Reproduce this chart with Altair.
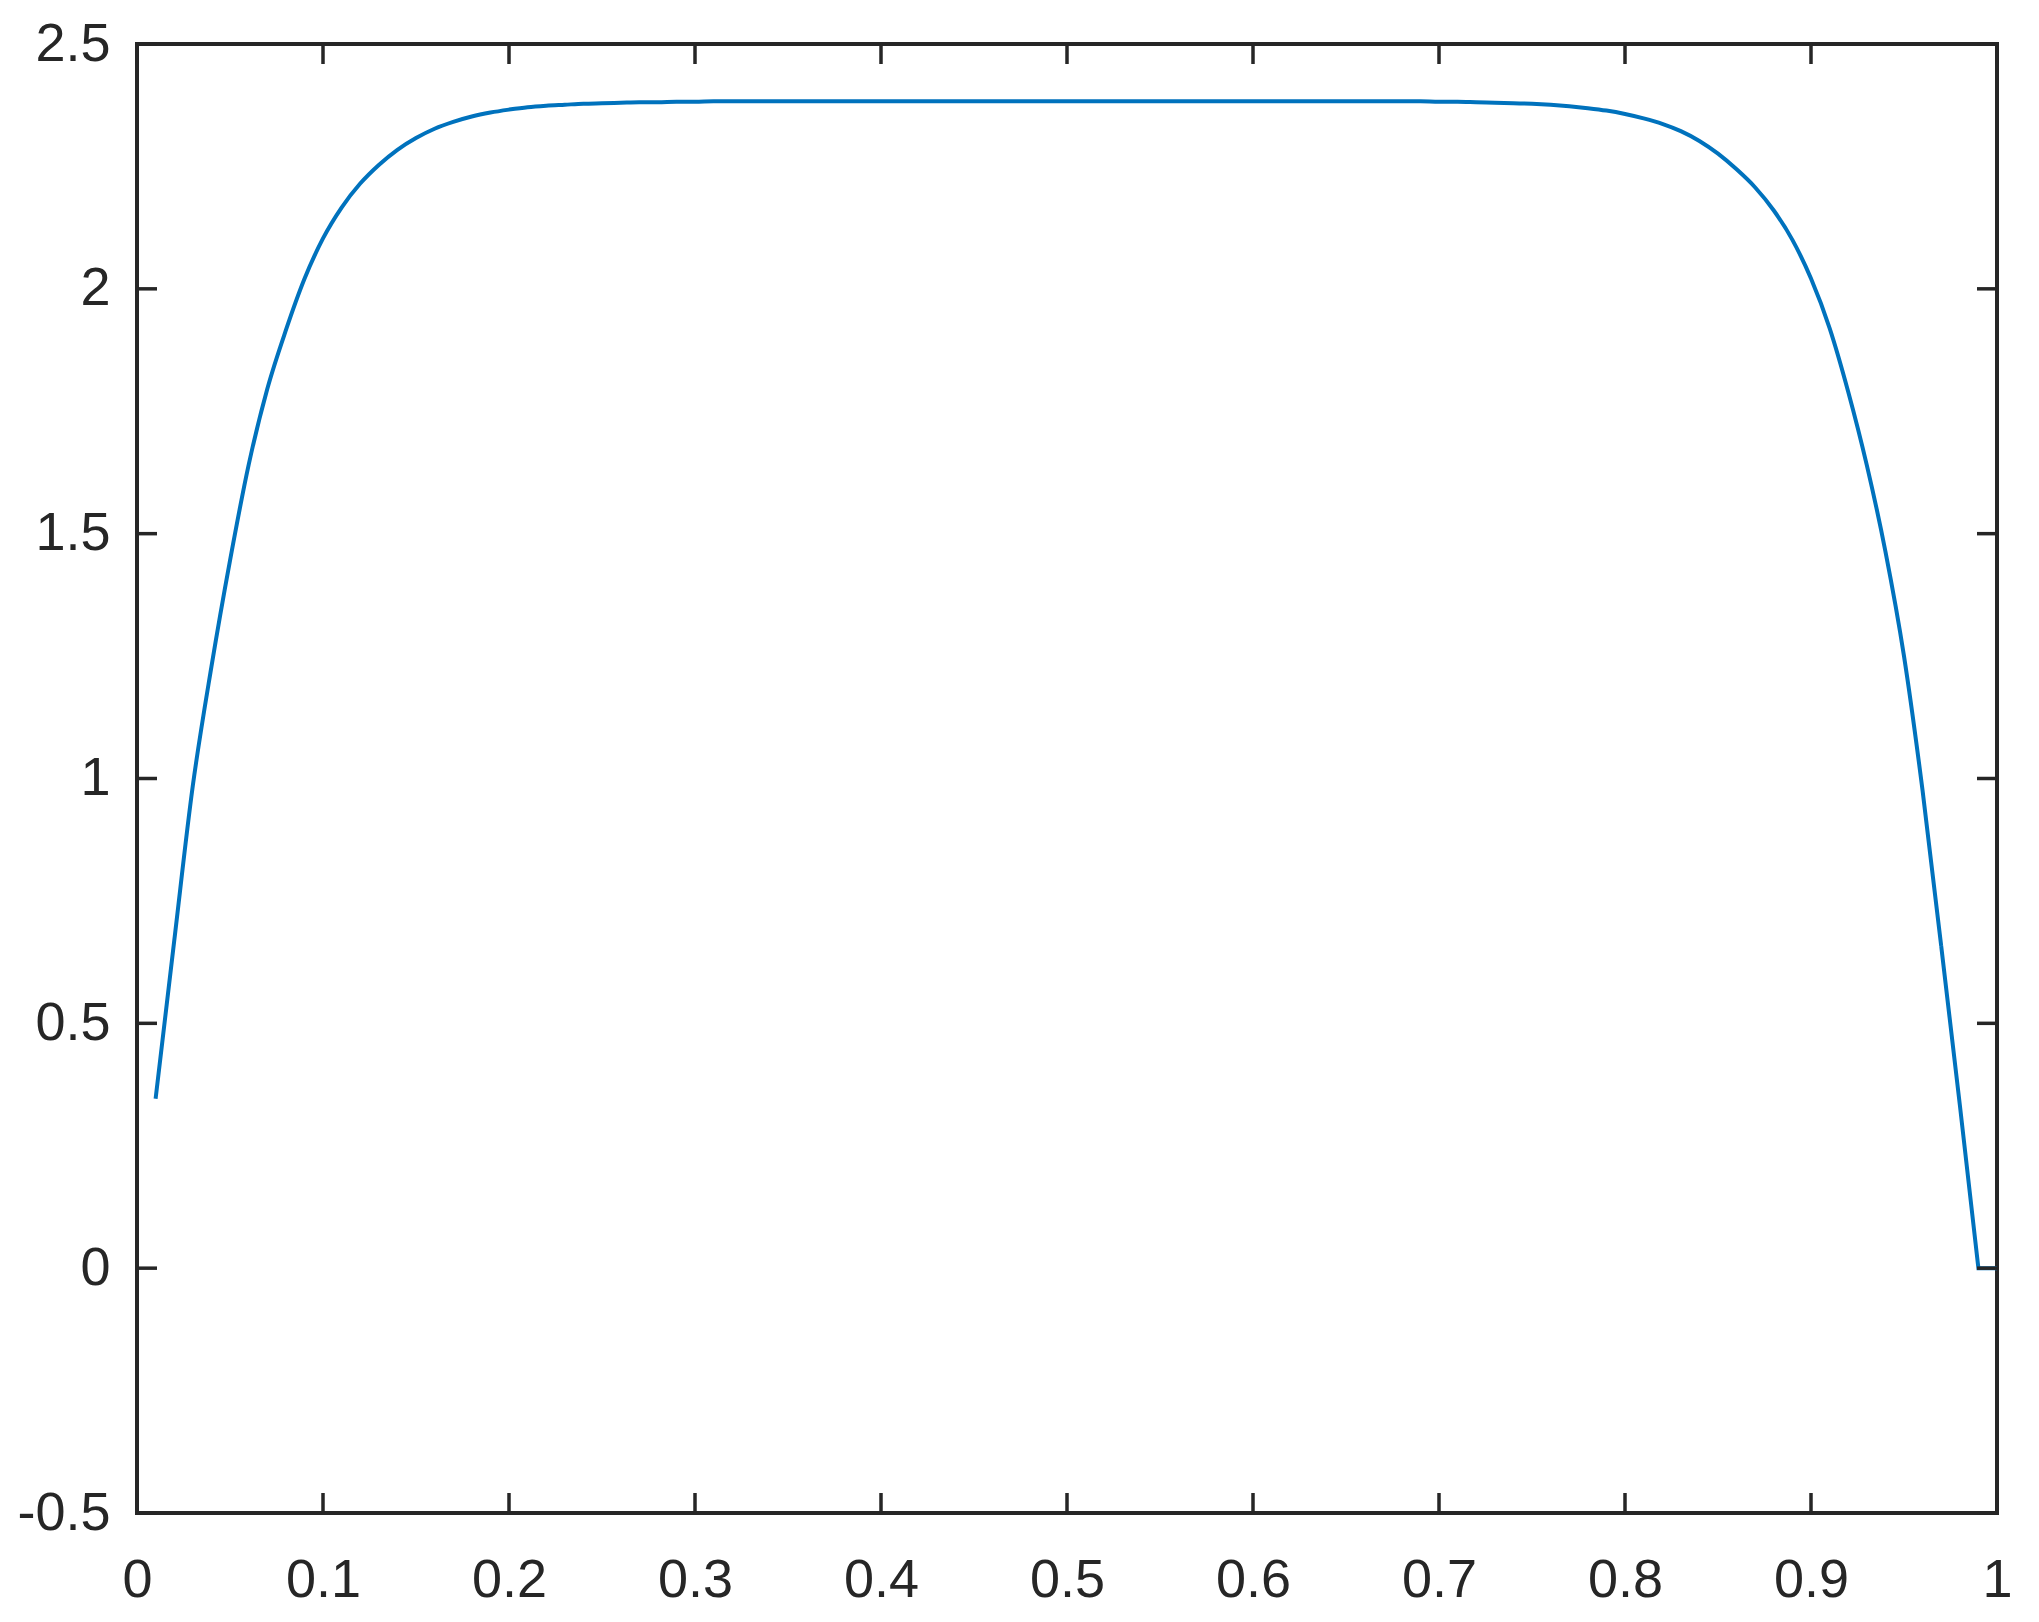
import altair as alt
import pandas as pd

# ---- data ----
x_vals = [round(0.01 * i, 2) for i in range(1, 101)]
y_vals = [
    0.346, 0.668, 0.985, 1.228, 1.445, 1.640, 1.795, 1.915, 2.020, 2.103,
    2.166, 2.215, 2.253, 2.284, 2.308, 2.327, 2.341, 2.352, 2.360, 2.366,
    2.371, 2.374, 2.376, 2.378, 2.379, 2.380, 2.381, 2.381, 2.382, 2.382,
    2.383, 2.383, 2.383, 2.383, 2.383, 2.383, 2.383, 2.383, 2.383, 2.383,
    2.383, 2.383, 2.383, 2.383, 2.383, 2.383, 2.383, 2.383, 2.383, 2.383,
    2.383, 2.383, 2.383, 2.383, 2.383, 2.383, 2.383, 2.383, 2.383, 2.383,
    2.383, 2.383, 2.383, 2.383, 2.383, 2.383, 2.383, 2.383, 2.383, 2.382,
    2.382, 2.381, 2.380, 2.379, 2.378, 2.376, 2.373, 2.369, 2.364, 2.357,
    2.348, 2.337, 2.322, 2.302, 2.276, 2.244, 2.207, 2.160, 2.100, 2.021,
    1.920, 1.790, 1.640, 1.464, 1.250, 0.975, 0.658, 0.334, 0.000, 0.000,
]
x_ticks = [0, 0.1, 0.2, 0.3, 0.4, 0.5, 0.6, 0.7, 0.8, 0.9, 1]
y_ticks = [-0.5, 0, 0.5, 1, 1.5, 2, 2.5]

W, H = 1860, 1469
TICK = 20
INK = "#262626"
BLUE = "#0072BD"
FONT = "Liberation Sans"

df = pd.DataFrame({"x": x_vals, "y": y_vals})
xt = pd.DataFrame({"v": x_ticks})
yt = pd.DataFrame({"v": y_ticks})

xscale = alt.Scale(domain=[0, 1], nice=False, zero=False)
yscale = alt.Scale(domain=[-0.5, 2.5], nice=False, zero=False)

label_expr = "datum.value < 0 ? '-' + format(-datum.value, '~g') : format(datum.value, '~g')"

xaxis = alt.Axis(values=x_ticks, labelExpr=label_expr, ticks=False, domain=False,
                 grid=False, title=None, labelFontSize=54, labelFont=FONT,
                 labelColor=INK, labelPadding=40, labelOverlap=False, labelFlush=False)
yaxis = alt.Axis(values=y_ticks, labelExpr=label_expr, ticks=False, domain=False,
                 grid=False, title=None, labelFontSize=54, labelFont=FONT,
                 labelColor=INK, labelPadding=27, labelOverlap=False, labelFlush=False)

base = alt.Chart(df).encode(
    x=alt.X("x:Q", scale=xscale, axis=xaxis),
    y=alt.Y("y:Q", scale=yscale, axis=yaxis),
)
smooth_part = base.transform_filter("datum.x <= 0.97").mark_line(
    color=BLUE, strokeWidth=4, interpolate="monotone")
end_part = base.transform_filter("datum.x >= 0.97").mark_line(
    color=BLUE, strokeWidth=4, strokeJoin="miter")

bottom_ticks = alt.Chart(xt).mark_rule(color=INK, strokeWidth=3.5).encode(
    x=alt.X("v:Q", scale=xscale, axis=xaxis),
    y=alt.value(H - TICK), y2=alt.value(H),
)
top_ticks = alt.Chart(xt).mark_rule(color=INK, strokeWidth=3.5).encode(
    x=alt.X("v:Q", scale=xscale, axis=xaxis),
    y=alt.value(0), y2=alt.value(TICK),
)
left_ticks = alt.Chart(yt).mark_rule(color=INK, strokeWidth=3.5).encode(
    y=alt.Y("v:Q", scale=yscale, axis=yaxis),
    x=alt.value(0), x2=alt.value(TICK),
)
right_ticks = alt.Chart(yt).mark_rule(color=INK, strokeWidth=3.5).encode(
    y=alt.Y("v:Q", scale=yscale, axis=yaxis),
    x=alt.value(W - TICK), x2=alt.value(W),
)

chart = alt.layer(smooth_part, end_part, bottom_ticks, top_ticks, left_ticks, right_ticks).properties(
    width=W, height=H,
    autosize=alt.AutoSizeParams(type="none"),
    padding={"left": 129, "top": 36, "right": 34, "bottom": 101},
    background="white",
).configure_view(stroke=INK, strokeWidth=4)

chart.save("out.html", embed_options={"renderer": "svg", "actions": False})
